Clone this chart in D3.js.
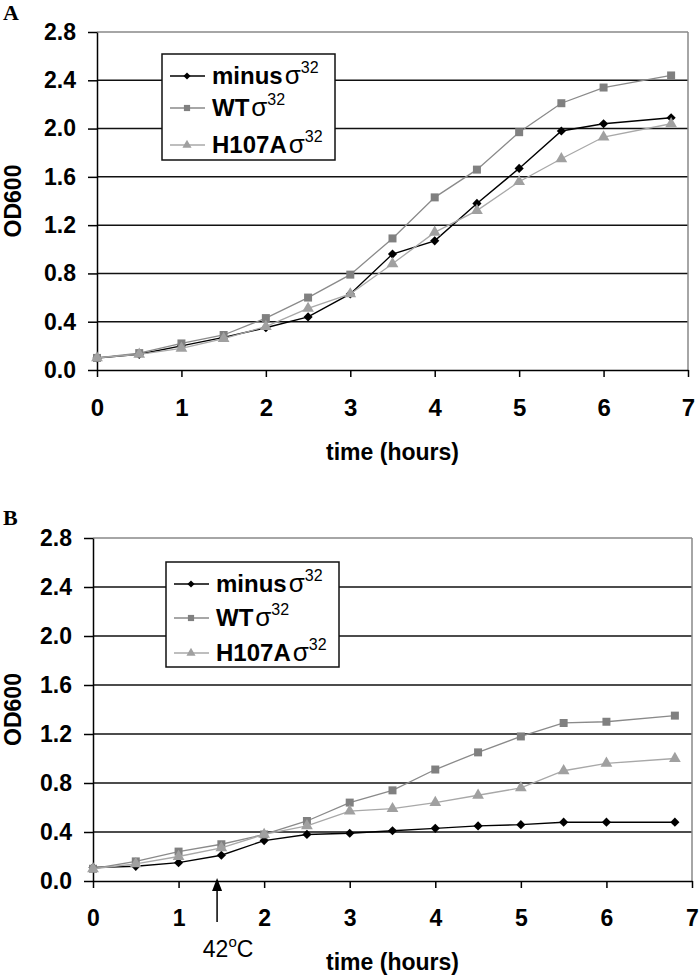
<!DOCTYPE html>
<html>
<head>
<meta charset="utf-8">
<script src="https://cdn.jsdelivr.net/npm/d3@7"></script>
<style>
  body { margin: 0; background: #fff; }
  svg { display: block; font-family: "Liberation Sans", Arial, sans-serif; }
</style>
</head>
<body>
<div class="diagram"></div>
<script>
// time points (hours)
let times = [0, 0.5, 1, 1.5, 2, 2.5, 3, 3.5, 4, 4.5, 5, 5.5, 6, 6.8];

// panel A: 30C growth
let minusA = [0.10, 0.13, 0.20, 0.27, 0.35, 0.44, 0.63, 0.96, 1.07, 1.38, 1.67, 1.98, 2.04, 2.09];
let wtA    = [0.10, 0.14, 0.22, 0.29, 0.43, 0.60, 0.79, 1.09, 1.43, 1.66, 1.97, 2.21, 2.34, 2.44];
let h107aA = [0.10, 0.13, 0.18, 0.26, 0.36, 0.51, 0.63, 0.88, 1.14, 1.32, 1.56, 1.75, 1.93, 2.04];

// panel B: shift to 42C
let minusB = [0.11, 0.12, 0.15, 0.21, 0.33, 0.38, 0.39, 0.41, 0.43, 0.45, 0.46, 0.48, 0.48, 0.48];
let wtB    = [0.10, 0.16, 0.24, 0.30, 0.38, 0.49, 0.64, 0.74, 0.91, 1.05, 1.18, 1.29, 1.30, 1.35];
let h107aB = [0.10, 0.14, 0.20, 0.27, 0.38, 0.45, 0.57, 0.59, 0.64, 0.70, 0.76, 0.90, 0.96, 1.00];

let seriesNames = ["minus", "WT", "H107A"];
let yTicks = [0, 0.4, 0.8, 1.2, 1.6, 2.0, 2.4, 2.8];
let xTicks = [0, 1, 2, 3, 4, 5, 6, 7];
let shiftTime = 1.45;

let styles = [
  { line: "#000", fill: "#000", shape: d3.symbolSquare, rot: 45, size: 42, lw: 1.4 },
  { line: "#8a8a8a", fill: "#808080", shape: d3.symbolSquare, rot: 0, size: 64, lw: 1.3 },
  { line: "#a8a8a8", fill: "#a0a0a0", shape: d3.symbolTriangle, rot: 0, size: 60, lw: 1.3 }
];

let svg = d3.select(".diagram").append("svg").attr("width", 700).attr("height", 979);

function drawPanel({ letter, letterY, left, right, top, bottom, series, legend, tickFont, tickLabelY, titleY, arrow }) {
  let x = d3.scaleLinear().domain([0, 7]).range([left, right]);
  let y = d3.scaleLinear().domain([0, 2.8]).range([bottom, top]);
  let g = svg.append("g");

  g.append("text").attr("x", 3).attr("y", letterY).text(letter)
    .style("font-family", "'Liberation Serif', 'Times New Roman', serif")
    .style("font-weight", "bold").style("font-size", "22px");

  // grid lines
  g.selectAll(".grid").data(yTicks.filter(d => d > 0 && d < 2.8)).enter().append("line")
    .attr("x1", left).attr("x2", right).attr("y1", d => y(d)).attr("y2", d => y(d))
    .style("stroke", "#111").style("stroke-width", 1.5);
  // top and right frame
  g.append("line").attr("x1", left).attr("x2", right).attr("y1", y(2.8)).attr("y2", y(2.8))
    .style("stroke", "#888").style("stroke-width", 1.5);
  g.append("line").attr("x1", right).attr("x2", right).attr("y1", y(2.8)).attr("y2", y(0))
    .style("stroke", "#888").style("stroke-width", 1.5);

  // axes
  let yAxis = d3.axisLeft(y).tickValues(yTicks).tickFormat(d3.format(".1f")).tickSizeInner(9).tickSizeOuter(0).tickPadding(12);
  let ya = g.append("g").attr("transform", `translate(${left},0)`).call(yAxis);
  ya.select(".domain").style("stroke", "#000").style("stroke-width", 1.5);
  ya.selectAll(".tick line").style("stroke", "#000").style("stroke-width", 1.5);
  ya.selectAll("text").style("font-size", "23px").style("font-weight", "bold").style("fill", "#000");

  let xAxis = d3.axisBottom(x).tickValues(xTicks).tickFormat(d3.format("d")).tickSizeInner(7).tickSizeOuter(0).tickPadding(tickLabelY);
  let xa = g.append("g").attr("transform", `translate(0,${bottom})`).call(xAxis);
  xa.select(".domain").style("stroke", "#000").style("stroke-width", 1.5);
  xa.selectAll(".tick line").style("stroke", "#000").style("stroke-width", 1.5);
  xa.selectAll("text").style("font-size", tickFont + "px").style("font-weight", "bold").style("fill", "#000");

  g.append("text").attr("x", (left + right) / 2).attr("y", titleY).attr("text-anchor", "middle")
    .style("font-size", "23px").style("font-weight", "bold").text("time (hours)");
  g.append("text").attr("transform", `translate(21,${(top + bottom) / 2}) rotate(-90)`)
    .attr("text-anchor", "middle").style("font-size", "23px").style("font-weight", "bold").text("OD600");

  // series
  let line = d3.line().x((d, i) => x(times[i])).y(d => y(d));
  series.forEach(function (vals, k) {
    let st = styles[k];
    g.append("path").datum(vals).attr("d", line)
      .style("fill", "none").style("stroke", st.line).style("stroke-width", st.lw);
    g.selectAll(".m" + k).data(vals).enter().append("path")
      .attr("transform", (d, i) => `translate(${x(times[i])},${y(d)}) rotate(${st.rot})`)
      .attr("d", d3.symbol().type(st.shape).size(st.size))
      .style("fill", st.fill);
  });

  // legend
  let lg = g.append("g");
  lg.append("rect").attr("x", legend.x).attr("y", legend.y).attr("width", legend.w).attr("height", legend.h)
    .style("fill", "#fff").style("stroke", "#111").style("stroke-width", 1.5);
  seriesNames.forEach(function (name, k) {
    let st = styles[k];
    let ly = legend.rows[k];
    lg.append("line").attr("x1", legend.x + 8).attr("x2", legend.x + 43).attr("y1", ly).attr("y2", ly)
      .style("stroke", st.line).style("stroke-width", st.lw);
    lg.append("path").attr("transform", `translate(${legend.x + 25},${ly}) rotate(${st.rot})`)
      .attr("d", d3.symbol().type(st.shape).size(st.size * 0.6)).style("fill", st.fill);
    let t = lg.append("text").attr("x", legend.x + 50).attr("y", ly + 8).style("font-size", "24px");
    t.append("tspan").style("font-weight", "bold").text(name);
    t.append("tspan").attr("dx", 2).style("font-size", "26px").text("σ");
    t.append("tspan").attr("dy", -11).style("font-size", "16px").text("32");
  });

  if (arrow) {
    let ax = x(shiftTime);
    g.append("line").attr("x1", ax).attr("x2", ax).attr("y1", bottom + 41).attr("y2", bottom + 8)
      .style("stroke", "#000").style("stroke-width", 1.5);
    g.append("path").attr("d", `M${ax},${bottom - 3}L${ax - 5},${bottom + 10}L${ax + 5},${bottom + 10}Z`).style("fill", "#000");
    let t = g.append("text").attr("x", ax + 11).attr("y", bottom + 76).attr("text-anchor", "middle").style("font-size", "23px");
    t.append("tspan").text("42");
    t.append("tspan").attr("dy", -10).style("font-size", "15px").text("o");
    t.append("tspan").attr("dy", 10).text("C");
  }
}

drawPanel({
  letter: "A", letterY: 20, left: 97, right: 688, top: 32, bottom: 370,
  series: [minusA, wtA, h107aA],
  legend: { x: 162, y: 54, w: 173, h: 106, rows: [76, 108, 145] },
  tickFont: 24, tickLabelY: 22, titleY: 460, arrow: false
});

drawPanel({
  letter: "B", letterY: 525, left: 93, right: 692, top: 538, bottom: 881,
  series: [minusB, wtB, h107aB],
  legend: { x: 166, y: 562, w: 173, h: 105, rows: [584, 618, 653] },
  tickFont: 23, tickLabelY: 22, titleY: 970, arrow: true
});
</script>
</body>
</html>
